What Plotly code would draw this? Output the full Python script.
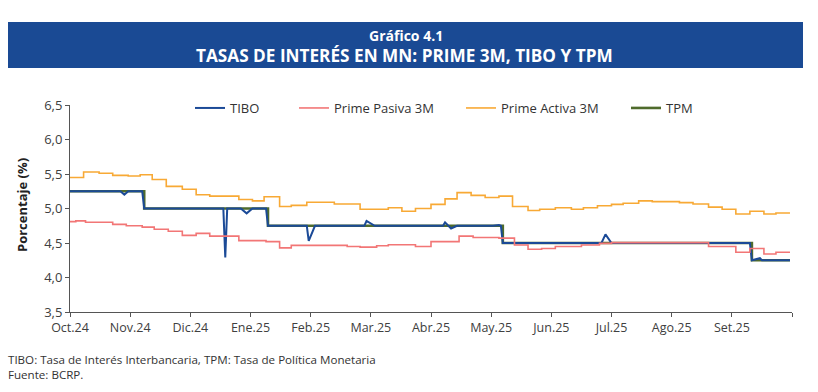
import calendar
import datetime as dt
import plotly.graph_objects as go

# ---------------- data ----------------
month_labels = ["Oct.24", "Nov.24", "Dic.24", "Ene.25", "Feb.25", "Mar.25",
                "Abr.25", "May.25", "Jun.25", "Jul.25", "Ago.25", "Set.25"]

tibo_dates = ["2024-10-01", "2024-10-27", "2024-10-29", "2024-10-31", "2024-11-07", "2024-11-08",
              "2024-12-18", "2024-12-19", "2024-12-20", "2024-12-27", "2024-12-30", "2025-01-02",
              "2025-01-09", "2025-01-10", "2025-01-30", "2025-01-31", "2025-02-03",
              "2025-02-26", "2025-02-27", "2025-03-03", "2025-04-07", "2025-04-08", "2025-04-11",
              "2025-04-14", "2025-05-02", "2025-05-05", "2025-05-06", "2025-05-07",
              "2025-06-26", "2025-06-28", "2025-07-01", "2025-07-21", "2025-07-22", "2025-07-23",
              "2025-09-10", "2025-09-11", "2025-09-12", "2025-09-15", "2025-09-16", "2025-09-30"]
tibo_vals = [5.25, 5.25, 5.20, 5.25, 5.25, 5.00,
             5.00, 4.29, 5.00, 5.00, 4.93, 5.00,
             5.00, 4.75, 4.75, 4.53, 4.75,
             4.75, 4.82, 4.75, 4.75, 4.80, 4.71,
             4.75, 4.75, 4.76, 4.75, 4.50,
             4.50, 4.625, 4.50, 4.50, 4.49, 4.50,
             4.50, 4.25, 4.26, 4.28, 4.25, 4.25]

tpm_dates = ["2024-10-01", "2024-11-08", "2025-01-10", "2025-05-07", "2025-09-11", "2025-09-30"]
tpm_vals = [5.25, 5.00, 4.75, 4.50, 4.25, 4.25]

pasiva_dates = ["2024-10-01", "2024-10-04", "2024-10-09", "2024-10-23", "2024-10-30", "2024-11-07",
                "2024-11-13", "2024-11-20", "2024-11-27", "2024-12-04", "2024-12-11", "2024-12-26",
                "2025-01-09", "2025-01-16", "2025-01-22", "2025-02-18", "2025-02-24", "2025-03-04",
                "2025-03-10", "2025-03-24", "2025-04-01", "2025-04-15", "2025-04-22", "2025-05-05",
                "2025-05-13", "2025-05-20", "2025-05-27", "2025-06-03", "2025-06-16", "2025-06-25",
                "2025-07-01", "2025-08-20", "2025-09-03", "2025-09-10", "2025-09-17", "2025-09-23",
                "2025-09-30"]
pasiva_vals = [4.81, 4.82, 4.80, 4.77, 4.75, 4.73,
               4.70, 4.67, 4.61, 4.64, 4.60, 4.535,
               4.52, 4.43, 4.465, 4.45, 4.44, 4.46,
               4.475, 4.45, 4.52, 4.60, 4.58, 4.57,
               4.47, 4.41, 4.42, 4.45, 4.47, 4.495,
               4.505, 4.45, 4.365, 4.42, 4.34, 4.365,
               4.365]

activa_dates = ["2024-10-01", "2024-10-08", "2024-10-16", "2024-10-23", "2024-10-31", "2024-11-06",
                "2024-11-12", "2024-11-19", "2024-11-27", "2024-12-04", "2024-12-11", "2024-12-26",
                "2025-01-02", "2025-01-08", "2025-01-16", "2025-01-22", "2025-01-30", "2025-02-12",
                "2025-02-24", "2025-03-10", "2025-03-17", "2025-03-24", "2025-04-01", "2025-04-08",
                "2025-04-14", "2025-04-21", "2025-04-28", "2025-05-05", "2025-05-12", "2025-05-20",
                "2025-05-26", "2025-06-03", "2025-06-11", "2025-06-17", "2025-06-24", "2025-07-01",
                "2025-07-07", "2025-07-15", "2025-07-22", "2025-08-05", "2025-08-12", "2025-08-20",
                "2025-08-27", "2025-09-03", "2025-09-10", "2025-09-17", "2025-09-23", "2025-09-30"]
activa_vals = [5.45, 5.53, 5.51, 5.48, 5.47, 5.49,
               5.42, 5.32, 5.28, 5.20, 5.18, 5.13,
               5.11, 5.17, 5.03, 5.045, 5.09, 5.065,
               4.99, 5.01, 4.96, 5.00, 5.06, 5.14,
               5.23, 5.19, 5.16, 5.18, 5.03, 4.97,
               4.99, 5.01, 4.99, 5.01, 5.04, 5.06,
               5.075, 5.11, 5.10, 5.085, 5.065, 5.02,
               4.99, 4.92, 4.96, 4.92, 4.935, 4.935]


def month_pos(s):
    """Date -> position on an axis where every month has equal width (as in the original)."""
    d = dt.date.fromisoformat(s)
    ndays = calendar.monthrange(d.year, d.month)[1]
    return (d.year - 2024) * 12 + (d.month - 10) + (d.day - 1) / ndays


FONT = "Open Sans, Liberation Sans, sans-serif"
NARROW = "Liberation Sans Narrow, Open Sans, sans-serif"

fig = go.Figure()

fig.add_trace(go.Scatter(x=[month_pos(d) for d in tpm_dates], y=tpm_vals, mode="lines",
                         line=dict(color="#4F6B2C", width=2.6, shape="hv"), name="TPM",
                         legend="legend4"))
fig.add_trace(go.Scatter(x=[month_pos(d) for d in tibo_dates], y=tibo_vals, mode="lines",
                         line=dict(color="#1B4A97", width=2), name="TIBO", legend="legend"))
fig.add_trace(go.Scatter(x=[month_pos(d) for d in pasiva_dates], y=pasiva_vals, mode="lines",
                         line=dict(color="#F27676", width=1.6, shape="hv"), name="Prime Pasiva 3M",
                         legend="legend2"))
fig.add_trace(go.Scatter(x=[month_pos(d) for d in activa_dates], y=activa_vals, mode="lines",
                         line=dict(color="#F8A935", width=1.6, shape="hv"), name="Prime Activa 3M",
                         legend="legend3"))

L, R, T, B = 70, 26, 105, 80
W, H = 818, 392
pw, ph = W - L - R, H - T - B


def px(x):
    return (x - L) / pw


def py(y):
    return (H - B - y) / ph


legend_common = dict(orientation="h", yanchor="middle", xanchor="left", bgcolor="rgba(0,0,0,0)",
                     font=dict(family=FONT, size=13, color="#333333"), itemwidth=30)
fig.update_layout(
    legend=dict(x=px(190), y=py(108), **legend_common),
    legend2=dict(x=px(294), y=py(108), **legend_common),
    legend3=dict(x=px(461), y=py(108), **legend_common),
    legend4=dict(x=px(626), y=py(108), **legend_common),
)

fig.update_layout(
    width=W, height=H,
    margin=dict(l=L, r=R, t=T, b=B),
    paper_bgcolor="white", plot_bgcolor="white",
    separators=",.",
    font=dict(family=FONT, color="#404040"),
    xaxis=dict(range=[0, 12], tickvals=list(range(13)), ticktext=month_labels + [""],
               showgrid=False, zeroline=False, showline=True, linecolor="#555555", linewidth=1,
               ticks="outside", ticklen=4, tickcolor="#555555",
               tickfont=dict(family=FONT, size=12.5, color="#404040")),
    yaxis=dict(range=[3.5, 6.5], dtick=0.5, tickformat=".1f",
               showgrid=False, zeroline=False, showline=True, linecolor="#555555", linewidth=1,
               ticks="outside", ticklen=4, tickcolor="#555555",
               tickfont=dict(family=FONT, size=13, color="#404040")),
    showlegend=True,
)

# title banner
fig.add_shape(type="rect", xref="paper", yref="paper", x0=px(8), x1=px(803), y0=py(68), y1=py(22),
              fillcolor="#1A4A94", line=dict(width=0), layer="below")
fig.add_annotation(xref="paper", yref="paper", x=px(406), y=py(35), text="<b>Gráfico 4.1</b>",
                   showarrow=False, font=dict(family=FONT, size=14, color="white"),
                   xanchor="center", yanchor="middle")
fig.add_annotation(xref="paper", yref="paper", x=px(404), y=py(55),
                   text="<b>TASAS DE INTERÉS EN MN: PRIME 3M, TIBO Y TPM</b>",
                   showarrow=False, font=dict(family=FONT, size=17.2, color="white"),
                   xanchor="center", yanchor="middle")

# y-axis title
fig.add_annotation(xref="paper", yref="paper", x=px(22), y=py(205), text="<b>Porcentaje (%)</b>",
                   textangle=-90, showarrow=False, font=dict(family=FONT, size=13, color="#222222"),
                   xanchor="center", yanchor="middle")

# footnotes
fig.add_annotation(xref="paper", yref="paper", x=px(7), y=py(351),
                   text="TIBO: Tasa de Interés Interbancaria, TPM: Tasa de Política Monetaria<br>Fuente: BCRP.",
                   showarrow=False, align="left", borderpad=0,
                   font=dict(family=NARROW, size=11.6, color="#333333"),
                   xanchor="left", yanchor="top")

fig.write_html("out.html", config={"displayModeBar": False},
               post_script="document.body.style.margin='0';")
